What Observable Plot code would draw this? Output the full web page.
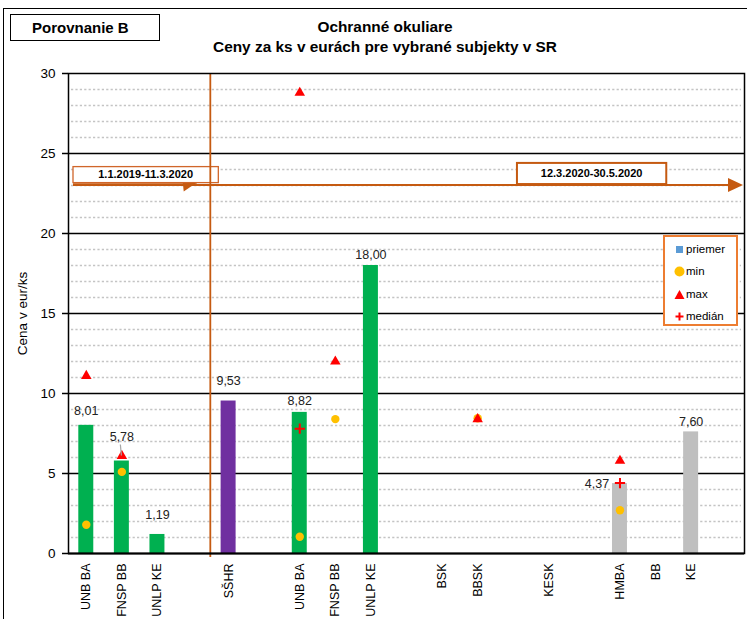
<!DOCTYPE html>
<html>
<head>
<meta charset="utf-8">
<script src="https://cdn.jsdelivr.net/npm/d3@7"></script>
<script src="https://cdn.jsdelivr.net/npm/@observablehq/plot@0.6"></script>
<style>
  body { margin: 0; background: #fff; font-family: "Liberation Sans", Arial, sans-serif; overflow: hidden; }
  #wrap { position: relative; width: 747px; height: 619px; overflow: hidden; background: #fff; }
  #chart { position: absolute; left: 0; top: 0; }
  #outer { position: absolute; left: 3px; top: 8px; width: 800px; height: 700px; border-left: 1.5px solid #000; border-top: 1.5px solid #000; pointer-events: none; }
  #badge { position: absolute; left: 10px; top: 14px; width: 148px; height: 25px; border: 1.5px solid #000; background: #fff; font-weight: bold; font-size: 15px; line-height: 26px; }
  #badge span { position: absolute; left: 21px; }
  .title { position: absolute; left: 135px; width: 500px; text-align: center; font-weight: bold; font-size: 15.4px; line-height: 17px; color: #000; }
  #legend { position: absolute; left: 663px; top: 235px; width: 71px; height: 87px; border: 2px solid #ED7D31; background: #fff; font-size: 11.5px; color: #000; }
  .li { position: absolute; left: 9px; height: 14px; line-height: 14px; display: flex; align-items: center; white-space: nowrap; }
  .li svg { margin-right: 1px; }
</style>
</head>
<body>
<div id="wrap">
  <div id="chart"></div>
  <div id="outer"></div>
  <div id="badge"><span>Porovnanie B</span></div>
  <div class="title" style="top:18px">Ochranné okuliare</div>
  <div class="title" style="top:38px">Ceny za ks v eurách pre vybrané subjekty v SR</div>
  <div id="legend"></div>
</div>
<script>
// ---- data ----
const categories = ["UNB BA","FNSP BB","UNLP KE","","SŠHR","","UNB BA","FNSP BB","UNLP KE","","BSK","BBSK","","KESK","","HMBA","BB","KE",""];
const groups     = ["nem","nem","nem","","sshr","","nem","nem","nem","","vuc","vuc","","vuc","","mesto","mesto","mesto",""];
const priemer    = [8.01,5.78,1.19,null,9.53,null,8.82,null,18.00,null,null,null,null,null,null,4.37,null,7.60,null];
const minVals    = [1.8,5.1,null,null,null,null,1.05,8.4,null,null,null,8.45,null,null,null,2.7,null,null,null];
const maxVals    = [11.1,6.1,null,null,null,null,28.8,12.0,null,null,null,8.4,null,null,null,5.8,null,null,null];
const medianVals = [null,null,null,null,null,null,7.8,null,null,null,null,null,null,null,null,4.4,null,null,null];
const periods    = ["1.1.2019-11.3.2020","12.3.2020-30.5.2020"];
const legendLabels = ["priemer","min","max","medián"];
const yTicks = [0,5,10,15,20,25,30];
const yMinor = d3.range(1,30).filter(v => v % 5 !== 0);
const yLabel = "Cena v eur/ks";

// ---- styles ----
const groupColor = {nem: "#00B050", sshr: "#7030A0", mesto: "#BFBFBF", vuc: "#BFBFBF"};
const orange = "#C55A11";
const rows = categories.map((c, i) => ({i, cat: c, group: groups[i], priemer: priemer[i], min: minVals[i], max: maxVals[i], median: medianVals[i]}));
const fmt = v => d3.format(".2f")(v).replace(".", ",");
const labelOffsets = {0: [0,-14], 1: [0,-24], 2: [0,-19], 4: [0,-20], 6: [0,-11], 8: [0,-11], 15: [-23,0], 17: [0,-10]};

function annotations(index, scales, values, dims) {
  const {x, y} = scales;
  const g = d3.create("svg:g");
  const bw = x.bandwidth();
  const right = dims.width - dims.marginRight;
  const ay = y(23);
  // arrow
  g.append("line").attr("x1", x(0) + 5).attr("x2", right - 15).attr("y1", ay).attr("y2", ay)
    .attr("stroke", orange).attr("stroke-width", 2);
  g.append("polygon").attr("points", `${right-1},${ay} ${right-16},${ay-7} ${right-16},${ay+7}`).attr("fill", orange);
  // left period box
  const lx1 = x(0) + 5, lx2 = x(4) + 8, ly1 = y(24.15), ly2 = y(23.15);
  g.append("line").attr("x1", lx1).attr("x2", x(3) + 22).attr("y1", ly2 + 2).attr("y2", ly2 + 2).attr("stroke", orange).attr("stroke-width", 2.5);
  g.append("polygon").attr("points", `${x(3)+8},${ly2} ${x(3)+22},${ly2} ${x(3)+9},${ly2+9}`).attr("fill", orange);
  g.append("rect").attr("x", lx1).attr("y", ly1).attr("width", lx2 - lx1).attr("height", ly2 - ly1)
    .attr("fill", "#fff").attr("stroke", "#D0662A").attr("stroke-width", 1.3);
  g.append("text").attr("x", (lx1 + lx2) / 2).attr("y", (ly1 + ly2) / 2).attr("dy", "0.35em")
    .attr("text-anchor", "middle").attr("font-weight", "bold").attr("font-size", 11).text(periods[0]);
  // right period box
  const rx1 = x(12) + 22, rx2 = x(16) + 29, ry1 = y(24.38), ry2 = y(23.06);
  g.append("rect").attr("x", rx1).attr("y", ry1).attr("width", rx2 - rx1).attr("height", ry2 - ry1)
    .attr("fill", "#fff").attr("stroke", orange).attr("stroke-width", 2);
  g.append("text").attr("x", (rx1 + rx2) / 2).attr("y", (ry1 + ry2) / 2).attr("dy", "0.35em")
    .attr("text-anchor", "middle").attr("font-weight", "bold").attr("font-size", 11).text(periods[1]);
  // leader line for FNSP BB label
  const cx = x(1) + bw / 2;
  g.append("line").attr("x1", cx - 1).attr("x2", cx).attr("y1", y(priemer[1]) - 16).attr("y2", y(priemer[1]) - 5)
    .attr("stroke", "#a6a6a6").attr("stroke-width", 1.2);
  // period separator
  const sx = x(4);
  g.append("line").attr("x1", sx).attr("x2", sx).attr("y1", dims.marginTop).attr("y2", y(0) + 4)
    .attr("stroke", orange).attr("stroke-width", 1.8);
  return g.node();
}

const labelMarks = Object.entries(labelOffsets).map(([k, [dx, dy]]) =>
  Plot.text(rows.filter(r => r.i === +k), {x: "i", y: "priemer", text: d => fmt(d.priemer), dx, dy, fontSize: 12.5, fill: "#222"})
);

const chart = Plot.plot({
  width: 747, height: 619,
  marginLeft: 68, marginRight: 3, marginTop: 73, marginBottom: 66,
  style: {fontFamily: "Liberation Sans, Arial, sans-serif", background: "transparent", overflow: "visible", color: "#000"},
  x: {type: "band", domain: d3.range(categories.length), padding: 0, round: false},
  y: {domain: [0, 30]},
  color: {type: "identity"},
  marks: [
    Plot.ruleY(yMinor, {stroke: "#c4c4c4", strokeWidth: 1.6, strokeDasharray: "2.2,2.2", insetLeft: 3, insetRight: 3}),
    Plot.ruleY(yTicks.filter(v => v > 0 && v < 30), {stroke: "#000", strokeWidth: 1.5}),
    Plot.barY(rows.filter(r => r.priemer != null), {x: "i", y: "priemer", fill: d => groupColor[d.group], insetLeft: 10.3, insetRight: 10.3}),
    Plot.dot(rows.filter(r => r.min != null), {x: "i", y: "min", r: 4.2, fill: "#FFC000", stroke: "none"}),
    Plot.dot(rows.filter(r => r.max != null), {x: "i", y: "max", r: 3.9, symbol: "triangle", fill: "#FF0000", stroke: "none"}),
    Plot.dot(rows.filter(r => r.median != null), {x: "i", y: "median", r: 3.4, symbol: "plus", fill: "none", stroke: "#FF0000", strokeWidth: 2}),
    ...labelMarks,
    annotations,
    Plot.frame({stroke: "#000", strokeWidth: 1.5}),
    Plot.ruleY([0], {stroke: "#000", strokeWidth: 2.2}),
    Plot.axisY(yTicks, {tickSize: 6, tickPadding: 7, fontSize: 13.5, label: null, stroke: "#000", strokeWidth: 1.5}),
    Plot.axisX({tickFormat: i => categories[i], tickRotate: -90, tickSize: 0, tickPadding: 10, fontSize: 12.5, label: null}),
    Plot.text([yLabel], {frameAnchor: "left", rotate: -90, dx: -46, textAnchor: "middle", fontSize: 13.5, fill: "#000"})
  ]
});
document.getElementById("chart").appendChild(chart);

// legend
const legend = document.getElementById("legend");
const icons = [
  `<svg width="11" height="11"><rect x="2" y="2" width="7" height="7" fill="#5B9BD5"/></svg>`,
  `<svg width="11" height="11"><circle cx="5.5" cy="5.5" r="5" fill="#FFC000"/></svg>`,
  `<svg width="11" height="11"><polygon points="5.5,1 10.5,10 0.5,10" fill="#FF0000"/></svg>`,
  `<svg width="11" height="11"><path d="M1.5,5.5H9.5M5.5,1.5V9.5" stroke="#FF0000" stroke-width="2"/></svg>`
];
const rowTops = [5, 27, 50, 72];
legendLabels.forEach((t, k) => {
  const d = document.createElement("div");
  d.className = "li";
  d.style.top = rowTops[k] + "px";
  d.innerHTML = icons[k] + "<span>" + t + "</span>";
  legend.appendChild(d);
});
</script>
</body>
</html>
